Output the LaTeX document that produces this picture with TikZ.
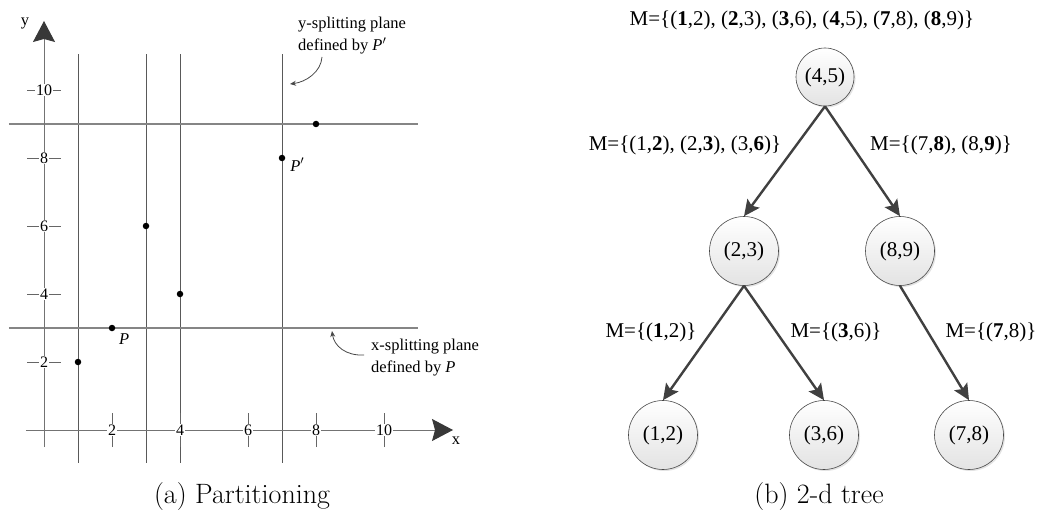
\documentclass[tikz,border=0pt]{standalone}
\usepackage{fontspec}
\newfontfamily\tnr{Liberation Serif}
\usetikzlibrary{arrows.meta,shadows}
\begin{document}
\begin{tikzpicture}[x=1pt,y=-1pt,
  gridv/.style={black!65, line width=0.9pt},
  gridh/.style={black!48, line width=1.2pt},
  axisline/.style={black!55, line width=1.0pt},
  axistip/.style={-{Stealth[length=21pt,width=22pt,inset=3pt,black!78]}},
  tickline/.style={black!60, line width=0.9pt},
  ticklabel/.style={fill=white, inner sep=0.8pt, font=\tnr\fontsize{16}{18}\selectfont},
  dot/.style={circle, fill=black, inner sep=0pt, minimum size=6.5pt},
  plabel/.style={font=\tnr\itshape\fontsize{16.5}{20}\selectfont, inner sep=0pt},
  axlabel/.style={font=\tnr\fontsize{16.5}{20}\selectfont, inner sep=0pt},
  ann/.style={font=\tnr\fontsize{16.5}{22}\selectfont, align=left, inner sep=0pt},
  annarrow/.style={black!72, line width=0.8pt, -{Stealth[length=6pt,width=5pt]}},
  tnode/.style={circle, draw=black!72, line width=0.6pt, top color=white, bottom color=black!11,
    minimum size=69pt, inner sep=0pt, font=\tnr\fontsize{21}{24}\selectfont,
    drop shadow={shadow xshift=1.5pt, shadow yshift=-1.5pt, opacity=0.22}},
  tedge/.style={black!75, line width=2.4pt, -{Stealth[length=16pt,width=15pt,inset=3pt]}},
  tlabel/.style={font=\tnr\fontsize{21}{24}\selectfont, inner sep=0pt},
  caption/.style={font=\fontsize{28}{32}\selectfont, inner sep=0pt}
]
\useasboundingbox (0,0) rectangle (1038,516);

% ---------- (a) Partitioning ----------
\begin{scope}[shift={(44pt,-430pt)}, x=34pt, y=34pt]
  \foreach \gx in {1,3,4,7} \draw[gridv] (\gx,-0.97) -- (\gx,11.06);
  \foreach \gy in {3,9} \draw[gridh] (-1.03,\gy) -- (11,\gy);
  \coordinate (xs) at (-0.53,0);
  \coordinate (xe) at (12.03,0);
  \coordinate (ys) at (0,-0.5);
  \coordinate (ye) at (0,12.03);
  \draw[axisline, axistip] (xs) -- (xe);
  \draw[axisline, axistip] (ys) -- (ye);
  \foreach \t in {2,4,6,8,10} {
    \draw[tickline] (\t,-0.5) -- (\t,0.5);
    \node[ticklabel] (xt\t) at (\t,0) {\t};
    \draw[tickline] (-0.5,\t) -- (0.5,\t);
    \node[ticklabel] (yt\t) at (0,\t) {\t};
  }
  \node[axlabel] (xl) at (12.12,-0.32) {x};
  \node[axlabel] (yl) at (-0.56,11.97) {y};
  \node[dot] (p12) at (1,2) {};
  \node[dot] (p23) at (2,3) {};
  \node[dot] (p36) at (3,6) {};
  \node[dot] (p44) at (4,4) {};
  \node[dot] (p78) at (7,8) {};
  \node[dot] (p89) at (8,9) {};
  \node[plabel] (lp) at (2.36,2.66) {P};
  \node[plabel] (lpp) at (7.45,7.8) {P$^{\prime}$};
\end{scope}

\node[ann, anchor=west] (yann) at (298,36) {y-splitting plane\\defined by \textit{P}$^{\prime}$};
\node[ann, anchor=west] (xann) at (371,358) {x-splitting plane\\defined by \textit{P}};
\coordinate (ya1) at (322,57);
\coordinate (ya2) at (290,84);
\draw[annarrow] (ya1) .. controls (321,72) and (306,82) .. (ya2);
\coordinate (xa1) at (364,355);
\coordinate (xa2) at (332,331);
\draw[annarrow] (xa1) .. controls (346,356) and (334,346) .. (xa2);

\node[caption] (capa) at (242,497) {(a) Partitioning};

% ---------- (b) 2-d tree ----------
\node[tnode, minimum size=58pt] (root) at (825,77) {(4,5)};
\node[tnode] (n23) at (744,251) {(2,3)};
\node[tnode] (n89) at (900,251) {(8,9)};
\node[tnode] (n12) at (663,435) {(1,2)};
\node[tnode] (n36) at (824,435) {(3,6)};
\node[tnode] (n78) at (969,435) {(7,8)};

\draw[tedge] (root.south) -- (n23.north);
\draw[tedge] (root.south) -- (n89.north);
\draw[tedge] (n23.south) -- (n12.north);
\draw[tedge] (n23.south) -- (n36.north);
\draw[tedge] (n89.south) -- (n78.north);

\node[tlabel] (mtop) at (802,20) {M=\{(\textbf{1},2), (\textbf{2},3), (\textbf{3},6), (\textbf{4},5), (\textbf{7},8), (\textbf{8},9)\}};
\node[tlabel] (ml1) at (685,145) {M=\{(1,\textbf{2}), (2,\textbf{3}), (3,\textbf{6})\}};
\node[tlabel] (ml2) at (941,145) {M=\{(7,\textbf{8}), (8,\textbf{9})\}};
\node[tlabel] (ml3) at (651,332) {M=\{(\textbf{1},2)\}};
\node[tlabel] (ml4) at (836,332) {M=\{(\textbf{3},6)\}};
\node[tlabel] (ml5) at (991,332) {M=\{(\textbf{7},8)\}};

\node[caption] (capb) at (819,497) {(b) 2-d tree};
\end{tikzpicture}
\end{document}
